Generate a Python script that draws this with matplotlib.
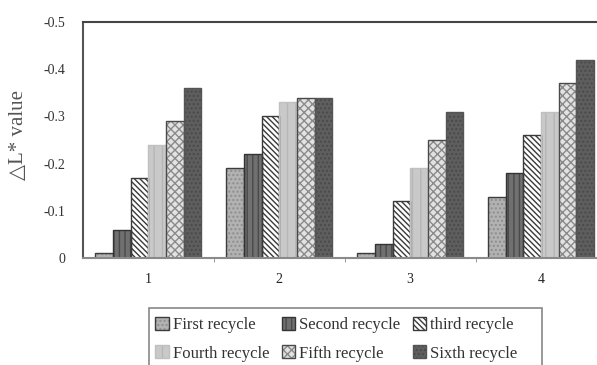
import matplotlib
matplotlib.use("Agg")
import matplotlib.pyplot as plt
from matplotlib.patches import Rectangle
import numpy as np

categories = ["1", "2", "3", "4"]
series_names = ["First recycle", "Second recycle", "third recycle",
                "Fourth recycle", "Fifth recycle", "Sixth recycle"]
first = [-0.01, -0.19, -0.01, -0.13]
second = [-0.06, -0.22, -0.03, -0.18]
third = [-0.17, -0.30, -0.12, -0.26]
fourth = [-0.24, -0.33, -0.19, -0.31]
fifth = [-0.29, -0.34, -0.25, -0.37]
sixth = [-0.36, -0.34, -0.31, -0.42]
yticks = [0, -0.1, -0.2, -0.3, -0.4, -0.5]
ytick_labels = ["0", "-0.1", "-0.2", "-0.3", "-0.4", "-0.5"]

series = [first, second, third, fourth, fifth, sixth]
styles = [
    dict(fc="#b2b2b2", hatch="....", hc="#8e8e8e", ec="#3c3c3c"),
    dict(fc="#707070", hatch="|||", hc="#4a4a4a", ec="#333333"),
    dict(fc="#ffffff", hatch="\\" * 6, hc="#3a3a3a", ec="#3a3a3a"),
    dict(fc="#c9c9c9", hatch="||", hc="#b6b6b6", ec="#c0c0c0"),
    dict(fc="#e2e2e2", hatch="xxxx", hc="#8a8a8a", ec="#4a4a4a"),
    dict(fc="#5e5e5e", hatch="....", hc="#4a4a4a", ec="#555555"),
]

plt.rcParams["hatch.linewidth"] = 1.0
fig = plt.figure(figsize=(5.97, 3.65), dpi=100)
ax = fig.add_axes([83 / 597, 1 - 258 / 365, 523.5 / 597, 236 / 365])

x = np.arange(1, len(categories) + 1)
w = 0.135
handles = []
for i, (vals, st) in enumerate(zip(series, styles)):
    pos = x + (i - 2.5) * w
    b1 = ax.bar(pos, vals, width=w, color=st["fc"], hatch=st["hatch"],
                edgecolor=st["hc"], linewidth=0, zorder=2)
    b2 = ax.bar(pos, vals, width=w, fill=False, edgecolor=st["ec"],
                linewidth=1.0, zorder=3)
    handles.append((b1.patches[0], b2.patches[0]))

ax.set_xlim(0.5, 4.5)
ax.set_ylim(0, -0.5)
ax.set_xticks(x)
ax.set_xticklabels(categories, family="Liberation Serif", fontsize=10, color="#222222")
ax.set_xticks([1.5, 2.5, 3.5], minor=True)
ax.tick_params(axis="x", which="major", length=0, pad=11)
ax.tick_params(axis="x", which="minor", length=3, color="#888888", direction="out")
ax.set_yticks(yticks)
ax.set_yticklabels(ytick_labels, family="Liberation Serif", fontsize=10, color="#333333")
ax.tick_params(axis="y", length=0, pad=13)

ax.spines["left"].set_color("#555555")
ax.spines["left"].set_linewidth(1.5)
ax.spines["top"].set_color("#444444")
ax.spines["top"].set_linewidth(1.5)
ax.spines["bottom"].set_color("#8a8a8a")
ax.spines["bottom"].set_linewidth(1.5)
ax.spines["right"].set_visible(False)
ax.spines["bottom"].set_zorder(4)

ax.set_ylabel("△L* value", family=["Liberation Serif", "DejaVu Sans"],
              fontsize=15, color="#555555", labelpad=7)
ax.yaxis.set_label_coords(-0.105, 0.52)

# row-wise legend order (matplotlib fills columns first)
order = [0, 3, 1, 4, 2, 5]
leg = fig.legend([handles[k] for k in order], [series_names[k] for k in order],
                 loc="upper left",
                 bbox_to_anchor=(146 / 597, 1 - 308 / 365), ncol=3,
                 prop={"family": "Liberation Serif", "size": 12},
                 frameon=False,
                 handlelength=0.8, handleheight=0.8, handletextpad=0.25,
                 columnspacing=0.75, labelspacing=0.72, borderpad=0.55,
                 borderaxespad=0)
for t in leg.get_texts():
    t.set_color("#333333")
fig.add_artist(Rectangle((149 / 597, -0.05), 393 / 597, (365 - 308) / 365 + 0.05,
                         transform=fig.transFigure, fill=False,
                         edgecolor="#888888", linewidth=1.2))

fig.savefig("out.png", dpi=100)
